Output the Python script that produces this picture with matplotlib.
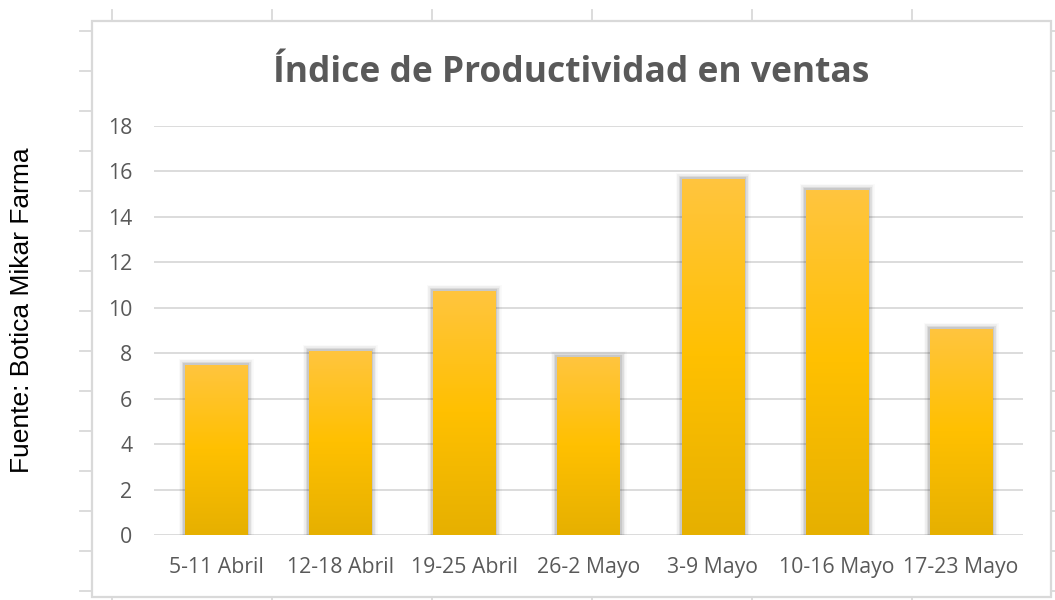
import numpy as np
import matplotlib.pyplot as plt
from matplotlib.colors import LinearSegmentedColormap
from matplotlib.lines import Line2D
from matplotlib.patches import Rectangle
import matplotlib.patheffects as pe

# datos
semanas = ['5-11 Abril', '12-18 Abril', '19-25 Abril', '26-2 Mayo',
           '3-9 Mayo', '10-16 Mayo', '17-23 Mayo']
indice = [7.5, 8.1, 10.75, 7.83, 15.68, 15.17, 9.08]
yticks = list(range(0, 20, 2))

W, H = 1055, 600
fig = plt.figure(figsize=(W / 100, H / 100), dpi=100)
fig.patch.set_facecolor('white')

gris_borde = '#d9d9d9'
gris_texto = '#595959'

def px(x, y):
    return x / W, 1 - y / H

# marco del grafico (celdas de excel)
x0, y0, x1, y1 = 92, 21, 1051, 597
fig.add_artist(Rectangle(px(x0, y1), (x1 - x0) / W, (y1 - y0) / H,
                         transform=fig.transFigure, fill=False,
                         edgecolor=gris_borde, lw=1.6))
for xt in range(112, x1, 160):
    fig.add_artist(Line2D([xt / W] * 2, [1 - 10 / H, 1 - y0 / H],
                          transform=fig.transFigure, color=gris_borde, lw=1.3))
    fig.add_artist(Line2D([xt / W] * 2, [0, 1 - y1 / H],
                          transform=fig.transFigure, color=gris_borde, lw=1.3))
for yt in np.arange(30.7, H, 40):
    fig.add_artist(Line2D([80 / W, x0 / W], [1 - yt / H] * 2,
                          transform=fig.transFigure, color=gris_borde, lw=1.3))
    fig.add_artist(Line2D([x1 / W, 1], [1 - yt / H] * 2,
                          transform=fig.transFigure, color=gris_borde, lw=1.3))

# ejes
left, right, top, bottom = 154, 1023, 126, 535
ax = fig.add_axes([left / W, 1 - bottom / H, (right - left) / W, (bottom - top) / H])
ax.set_xlim(-0.5, len(semanas) - 0.5)
ax.set_ylim(0, 18)
ax.set_yticks(yticks)
ax.set_xticks(range(len(semanas)))
ax.set_xticklabels(semanas)
for s in ax.spines.values():
    s.set_visible(False)
ax.tick_params(length=0, labelsize=15.3, labelcolor=gris_texto, pad=16)
ax.tick_params(axis='y', pad=15.5)
for lab in ax.get_xticklabels() + ax.get_yticklabels():
    lab.set_fontfamily('Open Sans')
ax.yaxis.grid(True, color=gris_borde, lw=1.3)
ax.set_axisbelow(True)

# barras con degradado
cmap = LinearSegmentedColormap.from_list('oro', ['#e6b000', '#ffc000', '#ffc53f'])
grad = np.linspace(0, 1, 256).reshape(-1, 1)
bars = ax.bar(range(len(semanas)), indice, width=0.5, color='none', zorder=3)
for b in bars:
    b.set_path_effects([
        pe.Stroke(linewidth=9, foreground='#303030', alpha=0.03),
        pe.Stroke(linewidth=7, foreground='#303030', alpha=0.05),
        pe.Stroke(linewidth=5, foreground='#303030', alpha=0.08),
        pe.Stroke(linewidth=3, foreground='#303030', alpha=0.12),
        pe.Normal()])
    b.set_facecolor('white')
    bx, by = b.get_x(), b.get_y()
    bw, bh = b.get_width(), b.get_height()
    im = ax.imshow(grad, cmap=cmap, origin='lower', aspect='auto',
                   extent=[bx, bx + bw, by, by + bh], zorder=4)
    im.set_clip_path(b)
ax.set_xlim(-0.5, len(semanas) - 0.5)
ax.set_ylim(0, 18)

fig.text(571 / W, 1 - 82 / H, 'Índice de Productividad en ventas',
         ha='center', va='baseline', fontsize=25.5, fontweight='bold',
         color=gris_texto, family='Open Sans')
fig.text(22 / W, 1 - 310 / H, 'Fuente: Botica Mikar Farma', rotation=90,
         ha='center', va='center', fontsize=19, color='black',
         family='Liberation Sans')

fig.savefig('out.png', dpi=100, facecolor='white')
